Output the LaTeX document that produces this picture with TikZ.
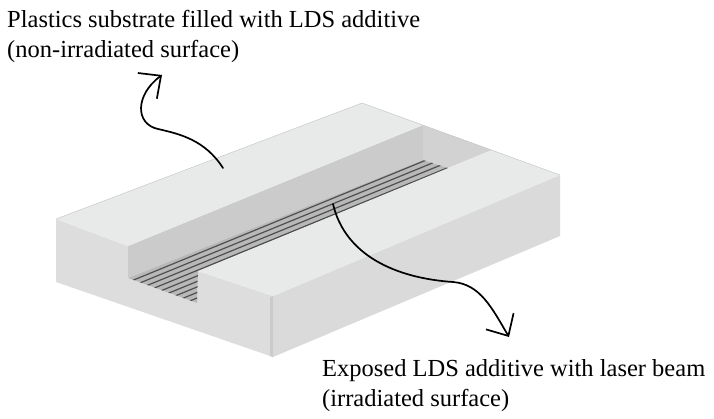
\documentclass[tikz,border=0pt]{standalone}
\usepackage{xcolor}
\usepackage{fontspec}
\setmainfont{Liberation Serif}
\usetikzlibrary{arrows.meta}
\definecolor{topface}{HTML}{E8EAEA}
\definecolor{frontface}{HTML}{DDDDDD}
\definecolor{sideface}{HTML}{DADADA}
\definecolor{wall}{HTML}{CBCBCB}
\definecolor{backwall}{HTML}{D2D2D2}
\definecolor{floorface}{HTML}{B8B8B8}
\definecolor{track}{HTML}{4F4F4F}
\definecolor{edgeline}{HTML}{C8C8C8}
\tikzset{
  face/.style={line width=0.5pt, line join=round},
  trackline/.style={draw=track, line width=1.2pt},
  callout/.style={draw=black, line width=1.7pt, line cap=round,
    -{Straight Barb[length=17pt,width=32pt,line width=1.7pt]}},
  lbl/.style={text=black, anchor=base west, inner sep=0pt, font=\fontsize{24.5}{28}\selectfont}
}

\begin{document}
\begin{tikzpicture}[x=1pt,y=-1pt]
  \useasboundingbox (0,0) rectangle (714,418);

  \coordinate (BL) at (56,219);
  \coordinate (BP) at (362,103);
  \coordinate (BR) at (560,175);
  \coordinate (FC) at (273,296);
  \coordinate (FB) at (273,357);
  \coordinate (LB) at (56,282);
  \coordinate (RB) at (560,236);
  \coordinate (NL) at (128,246);
  \coordinate (NB) at (128,278);
  \coordinate (NR) at (198,271);
  \coordinate (NF) at (197,303);
  \coordinate (WT) at (423,125);
  \coordinate (WB) at (423,160);
  \coordinate (ET) at (492,150);
  \coordinate (EB) at (448,168);

  % block faces
  \fill[frontface, face] (BL) -- (NL) -- (NB) -- (NF) -- (NR) -- (FC) -- (FB) -- (LB) -- cycle;
  \fill[sideface, face] (FC) -- (BR) -- (RB) -- (FB) -- cycle;
  \fill[wall, face] (NL) -- (WT) -- (WB) -- (NB) -- cycle;
  \fill[backwall, face] (WT) -- (ET) -- (EB) -- (WB) -- cycle;
  \fill[floorface, face] (NB) -- (WB) -- (EB) -- (NR) -- (NF) -- cycle;
  \fill[topface, face] (BL) -- (BP) -- (WT) -- (NL) -- cycle;
  \fill[topface, face] (NR) -- (ET) -- (BR) -- (FC) -- cycle;
  \fill[wall] (270,297) -- (FC) -- (FB) -- (270,356) -- cycle;
  \draw[edgeline, line width=0.5pt] (BL) -- (BP) -- (BR);

  % laser tracks
  \begin{scope}
    \clip (NB) -- (WB) -- (EB) -- (NR) -- (NF) -- cycle;
    \foreach \y in {254,259.5,...,302}
      \draw[trackline] (120,\y+31.6) -- (197,\y) -- (450,\y-103.7);
  \end{scope}

  \node[lbl] (subtitle) at (7,27) {Plastics substrate filled with LDS additive};
  \node[lbl] (subnote) at (7,57) {(non-irradiated surface)};
  \node[lbl] (exptitle) at (322,376) {Exposed LDS additive with laser beam};
  \node[lbl] (expnote) at (322,406) {(irradiated surface)};

  \coordinate (substart) at (223,168);
  \coordinate (subtip) at (162,75);
  \coordinate (expstart) at (333,204);
  \coordinate (exptip) at (509,337);

  \draw[callout] (substart) .. controls (205,140) and (180,134) .. (158,129)
    .. controls (135,124) and (135,95) .. (subtip);
  \draw[callout] (expstart) .. controls (345,255) and (395,278) .. (453,282)
    .. controls (480,284) and (492,308) .. (exptip);
\end{tikzpicture}
\end{document}
